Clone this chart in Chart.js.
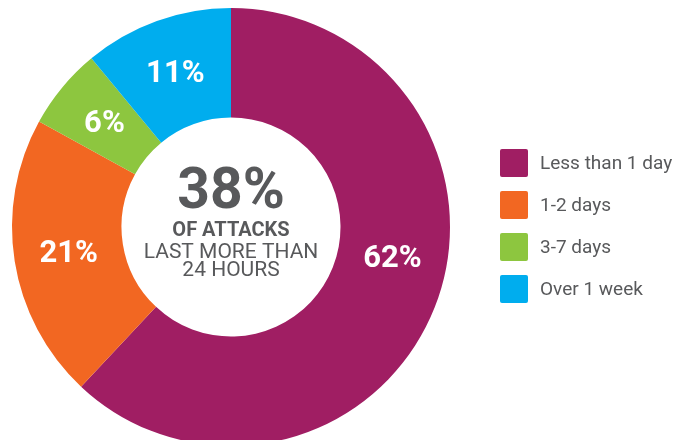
<!DOCTYPE html>
<html>
<head>
<meta charset="utf-8">
<script src="https://cdn.jsdelivr.net/npm/chart.js@4"></script>
<style>
  html, body { margin: 0; padding: 0; background: #fff; overflow: hidden; }
  #wrap { width: 691px; height: 440px; overflow: hidden; }
</style>
</head>
<body>
<div id="wrap"><canvas id="chart" width="691" height="460"></canvas></div>
<script>
const categories = ["Less than 1 day", "1-2 days", "3-7 days", "Over 1 week"];
const shares = [62, 21, 6, 11];
const sliceColors = ["#a01e63", "#f26722", "#8dc63f", "#00adee"];
const headline = "38%";
const subLines = ["OF ATTACKS", "LAST MORE THAN", "24 HOURS"];

const textGray = "#58595b";
const fontFam = "Roboto, 'Liberation Sans', sans-serif";
// the big slice's label sits a bit higher than its middle
const labelShift = [-11, 0, 0, 0];

const sliceLabels = {
  id: "sliceLabels",
  afterDatasetsDraw(chart) {
    const ctx = chart.ctx;
    const meta = chart.getDatasetMeta(0);
    ctx.save();
    ctx.fillStyle = "#fff";
    ctx.font = "bold 31px " + fontFam;
    ctx.textAlign = "center";
    ctx.textBaseline = "middle";
    meta.data.forEach((arc, i) => {
      const p = arc.getProps(["x", "y", "startAngle", "endAngle", "innerRadius", "outerRadius"], true);
      const mid = (p.startAngle + p.endAngle) / 2 + labelShift[i] * Math.PI / 180;
      const r = (p.innerRadius + p.outerRadius) / 2;
      ctx.fillText(shares[i] + "%", p.x + Math.cos(mid) * r, p.y + Math.sin(mid) * r + 2);
    });
    ctx.restore();
  }
};

const centerText = {
  id: "centerText",
  afterDraw(chart) {
    const ctx = chart.ctx;
    const arc = chart.getDatasetMeta(0).data[0];
    const cx = arc.x, cy = arc.y;
    ctx.save();
    ctx.fillStyle = textGray;
    ctx.textAlign = "center";
    ctx.textBaseline = "middle";
    ctx.font = "bold 57px " + fontFam;
    ctx.fillText(headline, cx, cy - 33);
    ctx.font = "bold 20px " + fontFam;
    ctx.fillText(subLines[0], cx, cy + 4);
    ctx.font = "21px " + fontFam;
    ctx.fillText(subLines[1], cx, cy + 26);
    ctx.fillText(subLines[2], cx, cy + 44);
    ctx.restore();
  }
};

const sideLegend = {
  id: "sideLegend",
  afterDraw(chart) {
    const ctx = chart.ctx;
    const left = 500, top = 149, step = 42, box = 28;
    ctx.save();
    ctx.font = "19px " + fontFam;
    ctx.textBaseline = "middle";
    categories.forEach((c, i) => {
      const y = top + i * step;
      ctx.fillStyle = sliceColors[i];
      ctx.beginPath();
      ctx.roundRect(left, y, box, box, 2);
      ctx.fill();
      ctx.fillStyle = textGray;
      ctx.fillText(c, left + 40, y + box / 2 + 1);
    });
    ctx.restore();
  }
};

new Chart(document.getElementById("chart"), {
  type: "doughnut",
  data: {
    labels: categories,
    datasets: [{
      data: shares,
      backgroundColor: sliceColors,
      borderWidth: 0
    }]
  },
  options: {
    responsive: false,
    animation: false,
    cutout: "50%",
    layout: { padding: { left: 12, top: 8, right: 241, bottom: 14 } },
    plugins: {
      legend: { display: false },
      tooltip: { enabled: false }
    }
  },
  plugins: [sliceLabels, centerText, sideLegend]
});
</script>
</body>
</html>
